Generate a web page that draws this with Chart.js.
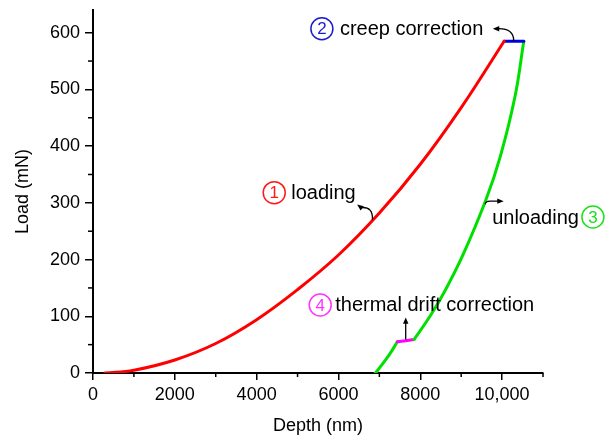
<!DOCTYPE html>
<html>
<head>
<meta charset="utf-8">
<script src="https://cdn.jsdelivr.net/npm/chart.js@4.4.0/dist/chart.umd.min.js"></script>
<style>
  html, body { margin: 0; padding: 0; background: #fff; }
  canvas { display: block; }
</style>
</head>
<body>
<canvas id="loadChart" width="606" height="437"></canvas>
<script>
// depth (nm) / load (mN)
const loadingDepth = [290, 1000, 2000, 3000, 4000, 5000, 6000, 7000, 8000, 9000, 10050];
const loadingLoad  = [0, 5, 23, 52, 94, 147, 208, 282, 368, 468, 585];
const creepDepth = [10050, 10530];
const creepLoad  = [585, 585];
const unloadDepth = [10530, 10317, 9957, 9603, 9029, 8574, 8238, 7846];
const unloadLoad  = [585, 488, 382, 305, 206, 141, 100, 59];
const driftDepth = [7440, 7846];
const driftLoad  = [55, 59];
const unloadEndDepth = [7440, 7240, 6950, 6900];
const unloadEndLoad  = [55, 32, 4, 0];
const xTicks = [0, 2000, 4000, 6000, 8000, 10000];
const yTicks = [0, 100, 200, 300, 400, 500, 600];

const FONT = "'Liberation Sans', Arial, sans-serif";
const pts = (xs, ys) => xs.map((x, i) => ({ x: x, y: ys[i] }));

const line = (xs, ys, color) => ({
  data: pts(xs, ys), borderColor: color, borderWidth: 3, pointRadius: 0,
  showLine: true, fill: false, tension: 0.4, borderCapStyle: 'round'
});

// annotation positions in data units, gap = px from circle centre to text
const notes = [
  { n: '1', text: 'loading', color: '#ff1a1a', cx: 4430, cy: 318, gap: 17, side: 'right' },
  { n: '2', text: 'creep correction', color: '#1a1ad0', cx: 5595, cy: 607, gap: 18, side: 'right' },
  { n: '3', text: 'unloading', color: '#1ee01e', cx: 12220, cy: 275, gap: 14, side: 'left' },
  { n: '4', text: 'thermal drift correction', color: '#ff33ff', cx: 5554, cy: 120, gap: 15, side: 'right' }
];

const decor = {
  id: 'decor',
  afterDraw(chart) {
    const c = chart.ctx, xs = chart.scales.x, ys = chart.scales.y;
    const X = v => xs.getPixelForValue(v), Y = v => ys.getPixelForValue(v);
    c.save();
    // minor ticks
    c.strokeStyle = '#000'; c.lineWidth = 1.5;
    for (let v = 1000; v <= 11000; v += 2000) {
      c.beginPath(); c.moveTo(X(v), ys.bottom); c.lineTo(X(v), ys.bottom + 4); c.stroke();
    }
    for (let v = 50; v <= 600; v += 100) {
      c.beginPath(); c.moveTo(xs.left, Y(v)); c.lineTo(xs.left - 5, Y(v)); c.stroke();
    }
    // circled numbers + labels
    c.textBaseline = 'middle';
    notes.forEach(a => {
      const px = X(a.cx), py = Y(a.cy);
      c.beginPath(); c.arc(px, py, 11, 0, Math.PI * 2);
      c.strokeStyle = a.color; c.lineWidth = 1.5; c.stroke();
      c.fillStyle = a.color; c.font = '17px ' + FONT; c.textAlign = 'center';
      c.fillText(a.n, px, py + 1);
      c.fillStyle = '#000'; c.font = '20px ' + FONT;
      if (a.side === 'right') { c.textAlign = 'left'; c.fillText(a.text, px + a.gap, py + 1); }
      else { c.textAlign = 'right'; c.fillText(a.text, px - a.gap, py + 1); }
    });
    // arrows
    const head = (x, y, ang) => {
      c.beginPath();
      c.moveTo(x, y);
      c.lineTo(x - 7 * Math.cos(ang - 0.4), y - 7 * Math.sin(ang - 0.4));
      c.lineTo(x - 7 * Math.cos(ang + 0.4), y - 7 * Math.sin(ang + 0.4));
      c.closePath(); c.fill();
    };
    c.strokeStyle = '#000'; c.fillStyle = '#000'; c.lineWidth = 1.3;
    // loading
    let x0 = X(6829), y0 = Y(270), x1 = X(6456), y1 = Y(297);
    c.beginPath(); c.moveTo(x0, y0); c.quadraticCurveTo(x0 + 1, y1 + 2, x1 + 4, y1 + 3); c.stroke();
    head(x1, y1, Math.atan2(-3, -4));
    // creep
    x0 = X(10283); y0 = Y(586); x1 = X(9773); y1 = Y(607);
    c.beginPath(); c.moveTo(x0, y0); c.quadraticCurveTo(x0, y1, x1 + 6, y1); c.stroke();
    head(x1, y1, Math.PI);
    // unloading
    x0 = X(9590); y0 = Y(303); x1 = X(10040);
    c.beginPath(); c.moveTo(x0, y0 + 3); c.quadraticCurveTo(x0, y0, x0 + 5, y0); c.lineTo(x1 - 5, y0); c.stroke();
    head(x1, y0, 0);
    // thermal drift
    x0 = X(7644); y0 = Y(59); y1 = Y(98);
    c.beginPath(); c.moveTo(x0, y0); c.lineTo(x0, y1 + 5); c.stroke();
    head(x0, y1, -Math.PI / 2);
    c.restore();
  }
};

new Chart(document.getElementById('loadChart'), {
  type: 'scatter',
  data: {
    datasets: [
      line(loadingDepth, loadingLoad, '#ff0000'),
      line(creepDepth, creepLoad, '#0000e0'),
      line(unloadDepth, unloadLoad, '#00e000'),
      line(driftDepth, driftLoad, '#ff00ff'),
      line(unloadEndDepth, unloadEndLoad, '#00e000')
    ]
  },
  options: {
    responsive: false, animation: false, devicePixelRatio: 1,
    layout: { padding: { top: 10, right: 63, left: 0, bottom: 0 } },
    plugins: { legend: { display: false }, tooltip: { enabled: false } },
    scales: {
      x: {
        type: 'linear', min: 0, max: 11000,
        afterFit: s => { s.height = 64; s.paddingLeft = 0; s.paddingRight = 0; },
        afterBuildTicks: s => { s.ticks = xTicks.map(v => ({ value: v })); },
        border: { color: '#000', width: 2 },
        grid: { drawOnChartArea: false, drawTicks: true, tickLength: 7, color: '#000', lineWidth: 1.5 },
        ticks: { color: '#000', font: { family: FONT, size: 18 }, padding: 4, maxRotation: 0,
                 callback: v => v >= 10000 ? v.toLocaleString('en-US') : String(v) },
        title: { display: true, text: 'Depth (nm)', color: '#000', font: { family: FONT, size: 18 }, padding: { top: 0, bottom: 0 } }
      },
      y: {
        type: 'linear', min: 0, max: 640,
        afterFit: s => { s.width = 93; s.paddingTop = 0; s.paddingBottom = 0; },
        afterBuildTicks: s => { s.ticks = yTicks.map(v => ({ value: v })); },
        border: { color: '#000', width: 2 },
        grid: { drawOnChartArea: false, drawTicks: true, tickLength: 8, color: '#000', lineWidth: 1.5 },
        ticks: { color: '#000', font: { family: FONT, size: 18 }, padding: 5 },
        title: { display: true, text: 'Load (mN)', color: '#000', font: { family: FONT, size: 18 }, padding: { top: 12, bottom: 0 } }
      }
    }
  },
  plugins: [decor]
});
</script>
</body>
</html>
